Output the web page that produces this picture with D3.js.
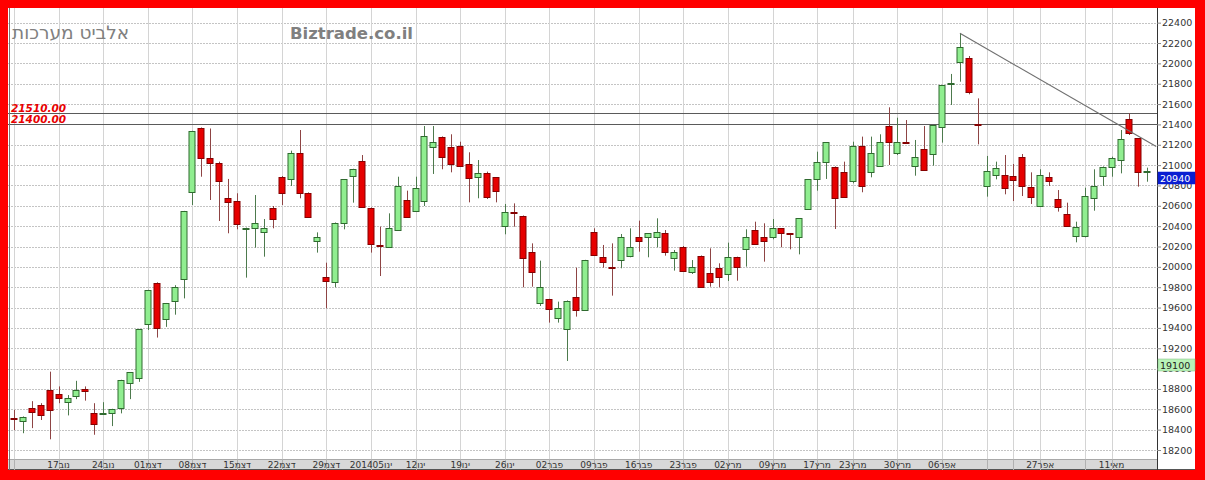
<!DOCTYPE html>
<html><head><meta charset="utf-8">
<script src="https://cdn.jsdelivr.net/npm/d3@7"></script>
<style>html,body{margin:0;padding:0;background:#f00;}svg{display:block}</style>
</head><body>
<svg id="c" width="1205" height="480"></svg>
<script>
// ---- DATA ----
const opens = [18510,18488,18610,18640,18790,18755,18675,18735,18795,18560,18555,18560,18610,18862,18905,19440,19845,19485,19660,19877,20740,21368,21067,21018,20680,20647,20377,20386,20346,20582,20886,20860,21116,20729,20257,19897,19855,20434,20893,21044,20582,20212,20199,20362,20657,20549,20651,21175,21280,21181,21188,21008,20886,20919,20880,20405,20540,20503,20143,19648,19684,19494,19389,19707,19576,20346,20094,19998,20067,20107,20290,20290,20290,20330,20084,20192,19946,20110,19943,19992,19927,20094,20172,20362,20290,20290,20379,20332,20297,20565,20860,21027,20985,20929,20847,21191,20929,20995,21384,21116,21226,20995,21155,21106,21371,21800,22010,22049,21408,20795,20903,20903,20893,21076,20788,20601,20886,20667,20516,20303,20303,20674,20893,20985,21050,21450,21263,20936];
const highs = [18595,18530,18680,18660,18970,18825,18740,18880,18825,18660,18670,18605,18890,18965,19390,19775,19848,19645,19820,20550,21337,21370,21360,21034,20864,20723,20386,20706,20470,20598,20893,21142,21345,20732,20339,20041,20436,20862,20964,21099,20584,20395,20526,20886,20749,20886,21384,21384,21282,21303,21230,21126,21050,20936,20882,20618,20624,20505,20231,20061,19686,19658,19670,19992,20069,20379,20215,20231,20323,20379,20454,20332,20477,20362,20166,20205,20067,20112,20182,20035,20238,20100,20369,20444,20428,20470,20381,20333,20479,20862,21132,21226,20987,21034,21230,21280,21280,21303,21568,21466,21443,21247,21384,21396,21789,21896,22295,22072,21656,21090,21034,21099,21011,21109,20929,20959,20929,20755,20631,20444,20778,20959,20987,21083,21345,21509,21265,20975];
const lows = [18395,18365,18415,18495,18305,18660,18540,18700,18685,18350,18545,18435,18560,18700,18870,19380,19305,19410,19530,19690,20608,20886,20657,20451,20330,20369,19894,20189,20100,20379,20608,20795,20674,20484,20140,19592,19799,20369,20631,20583,20140,19910,20197,20360,20491,20547,20598,20913,20959,20929,20993,20634,20674,20667,20634,20320,20395,19799,19805,19615,19452,19452,19075,19511,19574,20115,19992,19717,19986,20094,20149,20094,20192,20110,19963,19961,19930,19803,19805,19799,19861,19864,20002,20223,20051,20271,20192,20172,20123,20563,20749,20864,20372,20688,20821,20733,20880,20993,21001,21099,21222,20896,20945,20995,21221,21591,21820,21696,21204,20690,20860,20713,20647,20696,20618,20592,20795,20543,20403,20241,20290,20552,20795,20886,20919,21296,20788,20837];
const closes = [18505,18528,18570,18545,18595,18710,18715,18790,18775,18455,18562,18603,18888,18963,19389,19773,19396,19642,19799,20549,21335,21067,21018,20847,20634,20421,20381,20434,20386,20470,20729,21116,20729,20493,20290,19861,20434,20860,20962,20585,20221,20206,20379,20798,20493,20778,21286,21230,21083,21008,20995,20870,20919,20690,20746,20543,20533,20084,19953,19805,19586,19592,19668,19576,20067,20117,20045,19993,20290,20192,20257,20330,20339,20143,20143,19963,20002,19805,19848,19904,20094,20002,20290,20225,20257,20379,20336,20328,20477,20860,21027,21224,20680,20690,21191,20798,21116,21230,21230,21224,21222,21083,20952,21394,21787,21806,22164,21715,21400,20945,20968,20772,20854,20795,20690,20903,20844,20592,20405,20395,20696,20795,20985,21067,21253,21319,20936,20940];

const gridIdx = [0,5,10,15,20,25,30,35,40,45,50,55,60,65,70,75,80,85,90,94,99,104,109,112,115,120,123];
const tickIdx = [5,10,15,20,25,30,35,40,45,50,55,60,65,70,75,80,85,90,94,99,104,115,123];
const tickLabels = ["17נוב","24נוב","01דצמ","08דצמ","15דצמ","22דצמ","29דצמ","201405ינו","12ינו","19ינו","26ינו","02פבר","09פבר","16פבר","23פבר","02מרץ","09מרץ","17מרץ","23מרץ","30מרץ","06אפר","27אפר","11מאי"];
const yTicks = d3.range(18200, 22401, 200);
const levels = [21510, 21400];
const trendIdx = [106, 128];
const trendVal = [22295, 21183];
const lastPrice = 20940;
const markPrice = 19100;
const title = "אלביט מערכות";
const brand = "Biztrade.co.il";

// ---- LAYOUT ----
const L = 8, R = 1157, T = 8, B = 459, SB = 470, PR = 1195;
const svg = d3.select("#c");
const x = d3.scaleLinear().domain([0, 127]).range([14, 1147.3]);
const y = d3.scaleLinear().domain([18200, 22400]).range([450, 22.67]);

svg.append("rect").attr("width",1205).attr("height",480).attr("fill","#ff0000");
svg.append("rect").attr("x",L).attr("y",T).attr("width",PR-L).attr("height",SB-T).attr("fill","#ffffff");

svg.append("defs").append("clipPath").attr("id","pc").append("rect")
  .attr("x",L).attr("y",T).attr("width",R-L).attr("height",B-T);
const g = svg.append("g").attr("clip-path","url(#pc)");

// grid
g.selectAll("line.hg").data(yTicks).join("line")
  .attr("x1",L).attr("x2",R)
  .attr("y1",d=>Math.round(y(d))+0.5).attr("y2",d=>Math.round(y(d))+0.5)
  .attr("stroke","#c4c4c4").attr("stroke-dasharray","2,1");
g.selectAll("line.vg").data(gridIdx).join("line")
  .attr("x1",d=>Math.round(x(d))+0.5).attr("x2",d=>Math.round(x(d))+0.5)
  .attr("y1",T).attr("y2",SB)
  .attr("stroke","#d4d4d4");

// title texts
svg.append("text").attr("x",12).attr("y",39).text(title)
  .attr("font-family","DejaVu Sans, sans-serif").attr("font-size",18.5).attr("fill","#808080");
svg.append("text").attr("x",290).attr("y",39).text(brand)
  .attr("font-family","DejaVu Sans, sans-serif").attr("font-weight","bold").attr("font-size",16.5).attr("fill","#808080");

// level lines
g.selectAll("line.lv").data(levels).join("line")
  .attr("x1",L).attr("x2",R)
  .attr("y1",d=>Math.round(y(d))+0.5).attr("y2",d=>Math.round(y(d))+0.5)
  .attr("stroke","#5a5a5a").attr("stroke-width",1);
svg.selectAll("text.lv").data(levels).join("text")
  .attr("x",11).attr("y",d=>y(d)-1.5)
  .text(d=>d.toFixed(2))
  .attr("font-family","DejaVu Sans, sans-serif").attr("font-style","italic").attr("font-weight","bold")
  .attr("font-size",10.5).attr("fill","#e80000");

// candles
const data = opens.map((o,i)=>({i,o,h:highs[i],l:lows[i],c:closes[i]}));
const up = d=>d.c>=d.o;
const cg = g.selectAll("g.cd").data(data).join("g");
cg.append("line")
  .attr("x1",d=>Math.round(x(d.i))+0.5).attr("x2",d=>Math.round(x(d.i))+0.5)
  .attr("y1",d=>y(d.h)).attr("y2",d=>y(d.l))
  .attr("stroke",d=>up(d)?"#4d7a4d":"#8e4444");
cg.append("rect")
  .attr("x",d=>Math.round(x(d.i))-2.5)
  .attr("width",6)
  .attr("y",d=>Math.round(y(Math.max(d.o,d.c)))+0.5)
  .attr("height",d=>Math.max(1,Math.round(y(Math.min(d.o,d.c)))-Math.round(y(Math.max(d.o,d.c)))))
  .attr("fill",d=>up(d)?"#90ee90":"#e60000")
  .attr("stroke",d=>up(d)?"#2f6a2f":"#850000").attr("stroke-width",1)
  .attr("transform","translate(-0.5,0)");

// trend line
g.append("line")
  .attr("x1",x(trendIdx[0])).attr("y1",y(trendVal[0]))
  .attr("x2",x(trendIdx[1])).attr("y2",y(trendVal[1]))
  .attr("stroke","#707070").attr("stroke-width",1.2);

// bottom strip
svg.append("rect").attr("x",L).attr("y",B).attr("width",R-L).attr("height",SB-B).attr("fill","#d8d8d8");
svg.append("line").attr("x1",L).attr("x2",R).attr("y1",B+0.5).attr("y2",B+0.5).attr("stroke","#a8a8a8");
svg.append("line").attr("x1",L).attr("x2",PR).attr("y1",SB-0.5).attr("y2",SB-0.5).attr("stroke","#555");
svg.selectAll("line.vt").data(gridIdx).join("line")
  .attr("x1",d=>Math.round(x(d))+0.5).attr("x2",d=>Math.round(x(d))+0.5)
  .attr("y1",B).attr("y2",SB).attr("stroke","#b0b0b0");
svg.selectAll("text.xl").data(tickIdx).join("text")
  .attr("x",d=>x(d)).attr("y",468)
  .attr("text-anchor","middle")
  .text((d,k)=>tickLabels[k])
  .attr("font-family","DejaVu Sans, sans-serif").attr("font-size",9).attr("fill","#333");

// frame lines
svg.append("line").attr("x1",L+1.5).attr("x2",L+1.5).attr("y1",T).attr("y2",SB).attr("stroke","#777");
svg.append("line").attr("x1",R+0.5).attr("x2",R+0.5).attr("y1",T).attr("y2",SB).attr("stroke","#333");

// right axis
const ax = svg.append("g").attr("transform",`translate(${R},0)`)
  .call(d3.axisRight(y).tickValues(yTicks).tickSize(4).tickPadding(1).tickFormat(d3.format("d")));
ax.select(".domain").remove();
ax.selectAll("line").attr("stroke","#888");
ax.selectAll("text").attr("font-family","DejaVu Sans, sans-serif").attr("font-size",9.5).attr("fill","#333");

// price boxes
function box(v, fill, txt, stroke){
  const yy = Math.round(y(v));
  svg.append("rect").attr("x",R+1).attr("y",yy+1).attr("width",PR-R-1).attr("height",12)
    .attr("fill",fill).attr("stroke",stroke).attr("stroke-width",0.5);
  svg.append("text").attr("x",R+3).attr("y",yy+11).text(v)
    .attr("font-family","DejaVu Sans, sans-serif").attr("font-size",9.5).attr("fill",txt);
}
box(lastPrice, "#0a1ed2", "#ffffff", "#0a1ed2");
box(markPrice, "#b8f2b8", "#222", "#7fbf7f");
</script>
</body></html>
